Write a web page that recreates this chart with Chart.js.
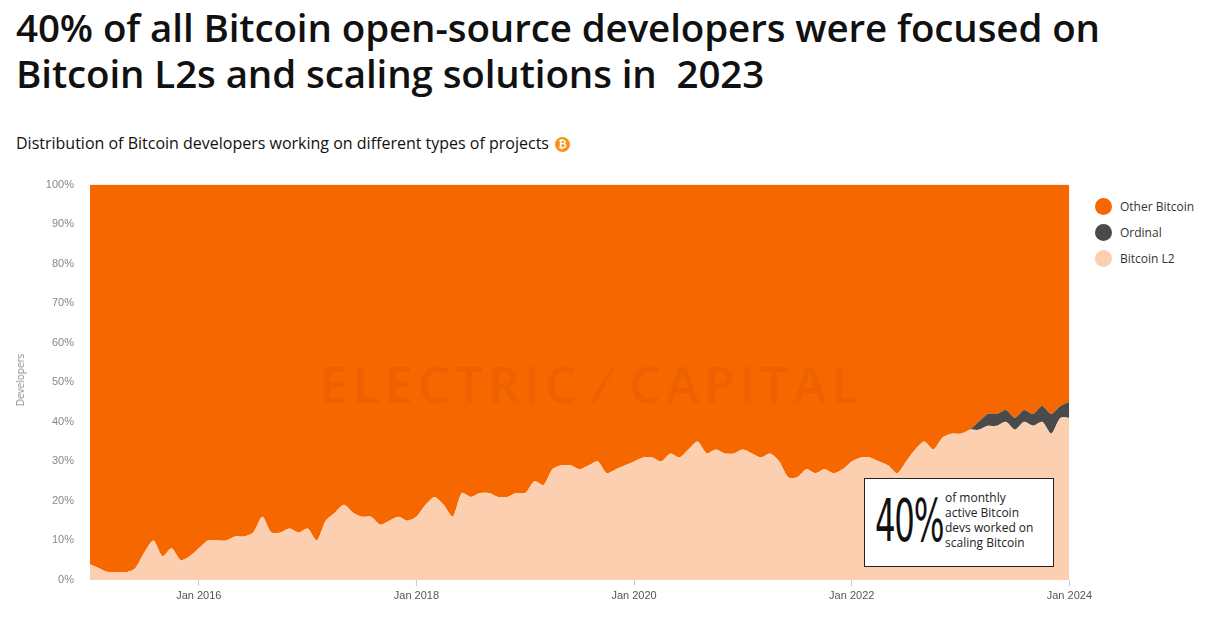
<!DOCTYPE html>
<html>
<head>
<meta charset="utf-8">
<script src="https://cdn.jsdelivr.net/npm/chart.js@4"></script>
<style>
  body { margin: 0; width: 1208px; height: 621px; background: #fff; font-family: "Open Sans", sans-serif; position: relative; overflow: hidden; }
  #title { position: absolute; left: 16px; top: 4px; font: 600 38.5px/46px "Open Sans", sans-serif; color: #111; letter-spacing: -0.1px; }
  #sub { position: absolute; left: 16px; top: 132px; font: 16px "Open Sans", sans-serif; color: #111; }
  #sub span { display: inline-block; width: 15px; height: 15px; border-radius: 50%; background: #f7931a; color: #fff; font: bold 10px/15px sans-serif; text-align: center; margin-left: 6px; vertical-align: 1px; }
  #wrap { position: absolute; left: 0; top: 170px; width: 1095px; height: 450px; }
  #ytitle { position: absolute; left: 12px; top: 380px; transform: translate(-50%, -50%) rotate(-90deg); transform-origin: center; font: 10px "Open Sans", sans-serif; color: #888; margin-left: 8px; }
  #wm { position: absolute; left: 320px; top: 350px; font: 600 50px "Open Sans", sans-serif; letter-spacing: 5px; color: rgba(200,70,0,0.18); }
  #legend { position: absolute; left: 1095px; top: 193px; font: 12px "Open Sans", sans-serif; color: #333; }
  #legend div { height: 26px; display: flex; align-items: center; }
  #legend i { display: inline-block; width: 17px; height: 17px; border-radius: 50%; margin-right: 8px; }
  #note { position: absolute; left: 864px; top: 478px; width: 190px; height: 89px; background: #fff; border: 1.5px solid #222; box-sizing: border-box; }
  #note b { position: absolute; left: 10px; top: 4px; font: 400 58px/76px "DejaVu Sans Condensed", "Liberation Sans Narrow", sans-serif; transform: scaleX(0.62); transform-origin: left; color: #111; letter-spacing: -2px; }
  #note p { position: absolute; left: 80px; top: 11px; margin: 0; font: 12px/15px "Open Sans", sans-serif; color: #222; }
</style>
</head>
<body>
<div id="title">40% of all Bitcoin open-source developers were focused on<br>Bitcoin L2s and scaling solutions in&nbsp; 2023</div>
<div id="sub">Distribution of Bitcoin developers working on different types of projects<span>₿</span></div>
<div id="wrap"><canvas id="c"></canvas></div>
<div id="wm">ELECTRIC ⁄ CAPITAL</div>
<div id="ytitle">Developers</div>
<div id="legend">
  <div><i style="background:#f76700"></i>Other Bitcoin</div>
  <div><i style="background:#4a4a4a"></i>Ordinal</div>
  <div><i style="background:#fccfb1"></i>Bitcoin L2</div>
</div>
<div id="note"><b>40%</b><p>of monthly<br>active Bitcoin<br>devs worked on<br>scaling Bitcoin</p></div>
<script>
// monthly points, Jan 2015 .. Jan 2024
const years = [2015, 2016, 2017, 2018, 2019, 2020, 2021, 2022, 2023, 2024];
const months = ['Jan','Feb','Mar','Apr','May','Jun','Jul','Aug','Sep','Oct','Nov','Dec'];

const bitcoinL2 = [
  4, 3, 2, 2, 2, 3, 7, 10, 6, 8, 5, 6,
  8, 10, 10, 10, 11, 11, 12, 16, 12, 12, 13, 12,
  13, 10, 15, 17, 19, 17, 16, 16, 14, 15, 16, 15,
  16, 19, 21, 19, 16, 22, 21, 22, 22, 21, 21, 22,
  22, 25, 24, 28, 29, 29, 28, 29, 30, 27, 28, 29,
  30, 31, 31, 30, 32, 31, 33, 35, 32, 33, 32, 32,
  33, 32, 31, 32, 30, 26, 26, 28, 27, 28, 27, 28,
  30, 31, 31, 30, 29, 27, 30, 33, 35, 33, 36, 37,
  37, 38, 38, 39, 39, 40, 38, 40, 39, 40, 37, 41,
  41
];
const ordinal = [
  0, 0, 0, 0, 0, 0, 0, 0, 0, 0, 0, 0,
  0, 0, 0, 0, 0, 0, 0, 0, 0, 0, 0, 0,
  0, 0, 0, 0, 0, 0, 0, 0, 0, 0, 0, 0,
  0, 0, 0, 0, 0, 0, 0, 0, 0, 0, 0, 0,
  0, 0, 0, 0, 0, 0, 0, 0, 0, 0, 0, 0,
  0, 0, 0, 0, 0, 0, 0, 0, 0, 0, 0, 0,
  0, 0, 0, 0, 0, 0, 0, 0, 0, 0, 0, 0,
  0, 0, 0, 0, 0, 0, 0, 0, 0, 0, 0, 0,
  0, 0, 2, 3, 3, 3, 3, 3, 3, 4, 5, 3,
  4
];
// remaining share of developers
const otherBitcoin = bitcoinL2.map((v, i) => 100 - v - ordinal[i]);

const labels = [];
for (const y of years) for (const m of months) if (labels.length < bitcoinL2.length) labels.push(m + ' ' + y);

const ticksShown = ['Jan 2016', 'Jan 2018', 'Jan 2020', 'Jan 2022', 'Jan 2024'];

new Chart(document.getElementById('c'), {
  type: 'line',
  data: {
    labels: labels,
    datasets: [
      { label: 'Bitcoin L2', data: bitcoinL2, backgroundColor: '#fccfb1', fill: 'origin' },
      { label: 'Ordinal', data: ordinal, backgroundColor: '#4a4a4a', fill: '-1' },
      { label: 'Other Bitcoin', data: otherBitcoin, backgroundColor: '#f76700', fill: '-1' }
    ]
  },
  options: {
    responsive: true,
    maintainAspectRatio: false,
    animation: false,
    layout: { padding: { top: 0, right: 0 } },
    elements: { point: { radius: 0 }, line: { borderWidth: 0, tension: 0.25 } },
    plugins: { legend: { display: false }, tooltip: { enabled: false } },
    scales: {
      x: {
        offset: false,
        grid: { drawOnChartArea: false, tickLength: 6, color: '#ccc' },
        border: { display: false },
        afterFit: s => { s.height = 40; },
        ticks: {
          autoSkip: false, maxRotation: 0, color: '#555', font: { size: 11 },
          callback: function (v) { const l = this.getLabelForValue(v); return ticksShown.includes(l) ? l : null; }
        }
      },
      y: {
        stacked: true, min: 0, max: 100,
        grid: { display: false },
        border: { display: false },
        afterFit: s => { s.width = 90; },
        ticks: { stepSize: 10, color: '#888', font: { size: 11 }, padding: 8, callback: v => v + '%' }
      }
    }
  }
});
</script>
</body>
</html>
